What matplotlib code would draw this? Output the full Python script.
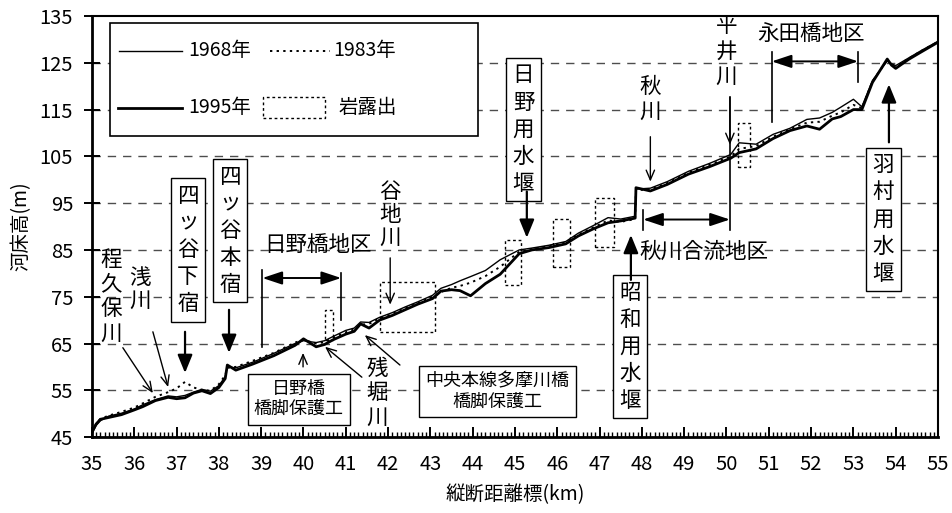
import matplotlib
matplotlib.use("Agg")
import matplotlib.pyplot as plt
from matplotlib.patches import Rectangle
from matplotlib.ticker import MultipleLocator

plt.rcParams['font.family'] = ['Noto Sans CJK JP', 'DejaVu Sans']

# 縦断距離標 (km)
km = [35.0, 35.1, 35.2, 35.4, 35.7, 36.0, 36.2, 36.5, 36.8, 37.0,
      37.2, 37.4, 37.6, 37.8, 38.0, 38.15, 38.2, 38.4, 38.8, 39.3,
      39.8, 40.0, 40.3, 40.5, 40.7, 41.0, 41.2, 41.35, 41.55, 41.8,
      42.1, 42.4, 42.7, 43.05, 43.25, 43.5, 43.7, 43.95, 44.3, 44.65,
      45.1, 45.4, 45.8, 46.2, 46.5, 46.85, 47.2, 47.5, 47.84, 47.86,
      48.2, 48.6, 49.1, 49.6, 50.1, 50.3, 50.7, 51.1, 51.5, 51.9,
      52.2, 52.5, 52.7, 53.0, 53.2, 53.45, 53.8, 53.9, 54.0, 54.3,
      54.6, 55.0]

# 河床高 (m)
bed_1968 = [45.8, 47.5, 48.5, 49.5, 50.1, 51.0, 51.9, 53.0, 53.8, 53.6,
            53.9, 54.6, 55.2, 54.8, 56.0, 57.9, 60.0, 59.8, 61.0, 62.9,
            65.0, 65.6, 65.2, 65.6, 66.5, 67.8, 68.3, 69.6, 69.5, 70.6,
            71.6, 72.8, 73.9, 75.3, 76.8, 77.6, 78.4, 79.3, 80.6, 82.9,
            85.0, 85.4, 86.0, 86.8, 88.6, 90.2, 91.9, 91.6, 92.2, 98.0,
            98.2, 99.6, 101.8, 103.5, 105.4, 107.9, 107.6, 109.7, 111.0, 112.9,
            113.2, 114.4, 115.5, 117.2, 115.6, 121.2, 125.4, 124.8, 124.4, 126.0,
            127.6, 129.6]
bed_1983 = [46.2, 47.9, 48.9, 49.6, 50.4, 51.3, 52.2, 53.6, 54.6, 55.4,
            56.8, 55.6, 55.1, 54.9, 56.3, 58.2, 59.8, 60.0, 61.3, 63.0,
            65.2, 65.8, 65.0, 65.3, 66.2, 67.4, 68.0, 69.0, 69.2, 70.4,
            71.3, 72.6, 73.6, 75.0, 76.0, 76.9, 77.3, 78.0, 79.4, 81.4,
            84.6, 85.2, 85.8, 86.6, 88.3, 89.8, 91.3, 91.0, 91.6, 97.8,
            97.9, 99.3, 101.5, 103.2, 105.0, 106.6, 107.2, 109.2, 110.8, 112.2,
            112.4, 113.7, 114.4, 116.0, 115.3, 121.0, 125.6, 124.6, 124.1, 125.9,
            127.5, 129.5]
bed_1995 = [46.0, 47.8, 48.8, 49.2, 49.8, 50.8, 51.5, 52.8, 53.5, 53.2,
            53.4, 54.4, 54.9, 54.3, 55.6, 57.5, 60.4, 59.3, 60.6, 62.4,
            64.6, 66.0, 64.3, 64.8, 65.8, 67.0, 67.6, 69.2, 68.3, 70.0,
            71.0, 72.2, 73.4, 74.6, 76.2, 76.5, 76.3, 75.2, 77.8, 79.8,
            84.2, 85.0, 85.5, 86.3, 88.0, 89.5, 90.8, 91.2, 91.8, 98.3,
            97.6, 99.0, 101.2, 102.8, 104.6, 105.8, 106.6, 108.8, 110.5, 111.5,
            110.8, 113.0, 113.5, 115.0, 115.0, 120.8, 125.8, 124.5, 123.8, 125.7,
            127.3, 129.4]

# 岩露出の範囲
outcrop_x0 = [40.50, 41.81, 44.76, 45.90, 46.89, 50.27]
outcrop_x1 = [40.70, 43.11, 45.14, 46.30, 47.34, 50.56]
outcrop_y0 = [65.8, 67.5, 77.5, 81.4, 85.7, 102.8]
outcrop_y1 = [72.2, 78.2, 87.2, 91.7, 96.0, 112.2]

x_ticks = list(range(35, 56))
y_ticks = list(range(45, 136, 10))
grid_levels = list(range(55, 126, 10))

fig = plt.figure(figsize=(9.52, 5.13), dpi=100)
ax = fig.add_axes([0.0966, 0.148, 0.8887, 0.8208])

for g in grid_levels:
    ax.axhline(g, ls=(0, (6, 5)), color='0.3', lw=1.0, zorder=0)

ax.plot(km, bed_1968, color='black', lw=1.0, zorder=3)
ax.plot(km, bed_1983, color='black', lw=1.4, ls=(0, (1.2, 2.2)), zorder=3)
ax.plot(km, bed_1995, color='black', lw=2.0, zorder=3)

for x0, x1, y0, y1 in zip(outcrop_x0, outcrop_x1, outcrop_y0, outcrop_y1):
    ax.add_patch(Rectangle((x0, y0), x1 - x0, y1 - y0, fill=False,
                           ec='black', lw=1.0, ls=(0, (2, 2)), zorder=2))

ax.set_xlim(35, 55)
ax.set_ylim(45, 135)
ax.set_xticks(x_ticks)
ax.set_yticks(y_ticks)
ax.xaxis.set_minor_locator(MultipleLocator(0.1))
ax.tick_params(axis='x', which='major', direction='in', length=7, width=1.4,
               labelsize=14.5, pad=12)
ax.tick_params(axis='x', which='minor', direction='in', length=3.5, width=1.0)
ax.tick_params(axis='y', direction='inout', length=11, width=1.4,
               labelsize=14.5, pad=8)
for side in ['left', 'bottom']:
    ax.spines[side].set_linewidth(2.0)
for side in ['top', 'right']:
    ax.spines[side].set_linewidth(1.5)

ax.set_ylabel('河床高(m)', fontsize=14)
ax.yaxis.set_label_coords(-0.071, 0.5)
ax.set_xlabel('縦断距離標(km)', fontsize=14, va='top')
ax.xaxis.set_label_coords(0.5, -0.112)

# 凡例（枠つき）
ax.add_patch(Rectangle((35.43, 109.4), 8.70, 24.2, fc='white', ec='black',
                       lw=1.2, zorder=4))
ax.plot([35.64, 37.13], [127.6, 127.6], color='black', lw=1.0, zorder=5)
ax.plot([39.2, 40.63], [127.6, 127.6], color='black', lw=1.4,
        ls=(0, (1.2, 2.2)), zorder=5)
ax.plot([35.62, 37.13], [115.4, 115.4], color='black', lw=2.0, zorder=5)
ax.add_patch(Rectangle((39.04, 113.1), 1.46, 4.5, fill=False, ec='black',
                       lw=1.0, ls=(0, (2, 2)), zorder=5))
for tx, ty, s in [(37.27, 127.6, '1968年'), (40.70, 127.6, '1983年'),
                  (37.27, 115.4, '1995年'), (40.82, 115.4, '岩露出')]:
    ax.text(tx, ty, s, fontsize=14, ha='left', va='center', zorder=6)


def vtext(x, y, s, size=15.5, boxed=False, ls=1.15):
    kw = dict(ha='center', va='center', fontsize=size, linespacing=ls, zorder=6)
    if boxed:
        kw['bbox'] = dict(boxstyle='square,pad=0.3', fc='white', ec='black', lw=1.0)
    ax.text(x, y, '\n'.join(s), **kw)


def arrow_open(x0, y0, x1, y1):
    ax.annotate('', xy=(x1, y1), xytext=(x0, y0), zorder=6,
                arrowprops=dict(arrowstyle='->,head_length=0.7,head_width=0.3',
                                lw=1.0, color='black', shrinkA=0, shrinkB=0,
                                mutation_scale=10))


def arrow_bold(x0, y0, x1, y1):
    ax.annotate('', xy=(x1, y1), xytext=(x0, y0), zorder=6,
                arrowprops=dict(arrowstyle='-|>,head_length=1.1,head_width=0.45',
                                lw=1.6, color='black', fc='black', shrinkA=0,
                                shrinkB=0, mutation_scale=10))


def span(x0, x1, y, left_bar, right_bar, label, lx, ly, ha='center'):
    ax.annotate('', xy=(x1, y), xytext=(x0, y), zorder=6,
                arrowprops=dict(arrowstyle='<|-|>,head_length=1.2,head_width=0.4',
                                lw=1.4, color='black', fc='black', shrinkA=0,
                                shrinkB=0, mutation_scale=10))
    ax.plot([x0, x0], left_bar, color='black', lw=1.2, zorder=6)
    ax.plot([x1, x1], right_bar, color='black', lw=1.2, zorder=6)
    ax.text(lx, ly, label, fontsize=15.5, ha=ha, va='center', zorder=6)


# 支川
vtext(35.45, 75.0, '程久保川')
arrow_open(35.73, 64.1, 36.44, 54.4)
vtext(36.13, 76.5, '浅川', ls=1.05)
arrow_open(36.44, 67.5, 36.80, 55.7)
vtext(42.05, 92.5, '谷地川', ls=1.05)
arrow_open(42.05, 83.3, 42.05, 73.3)
vtext(48.2, 117.2, '秋川')
arrow_open(48.2, 109.2, 48.2, 99.6)
vtext(50.0, 127.4, '平井川', ls=1.2)
arrow_open(50.08, 117.6, 50.08, 107.5)
vtext(41.74, 54.4, '残堀川')
arrow_open(41.38, 57.8, 40.51, 64.3)

# 堰
vtext(37.27, 85.0, '四ッ谷下宿', boxed=True, ls=1.3)
arrow_bold(37.2, 67.5, 37.2, 58.7)
vtext(38.26, 89.1, '四ッ谷本宿', boxed=True, ls=1.3)
arrow_bold(38.24, 72.2, 38.24, 63.0)
vtext(45.2, 110.7, '日野用水堰', boxed=True, ls=1.3)
arrow_bold(45.28, 97.5, 45.28, 87.6)
vtext(47.72, 64.3, '昭和用水堰', boxed=True, ls=1.3)
arrow_bold(47.74, 78.6, 47.74, 88.2)
vtext(53.71, 91.5, '羽村用水堰', boxed=True, ls=1.3)
arrow_bold(53.84, 108.0, 53.84, 120.4)

# 橋脚保護工
ax.text(39.89, 53.1, '日野橋\n橋脚保護工', fontsize=13, ha='center', va='center',
        linespacing=1.15, zorder=6,
        bbox=dict(boxstyle='square,pad=0.35', fc='white', ec='black', lw=1.0))
arrow_open(39.99, 60.0, 39.99, 63.0)
ax.text(44.59, 54.7, '中央本線多摩川橋\n橋脚保護工', fontsize=13, ha='center',
        va='center', linespacing=1.15, zorder=6,
        bbox=dict(boxstyle='square,pad=0.35', fc='white', ec='black', lw=1.0))
arrow_open(42.28, 60.4, 41.45, 66.8)

# 地区
span(39.03, 40.89, 79.0, [64.3, 80.8], [70.0, 80.1], '日野橋地区', 40.34, 86.1)
span(48.03, 50.08, 91.5, [89.3, 93.6], [89.3, 117.6], '秋川合流地区',
     47.95, 84.6, ha='left')
span(51.07, 53.11, 125.3, [112.3, 127.4], [120.8, 127.4], '永田橋地区',
     52.0, 131.1)

fig.savefig('out.png', dpi=100)
